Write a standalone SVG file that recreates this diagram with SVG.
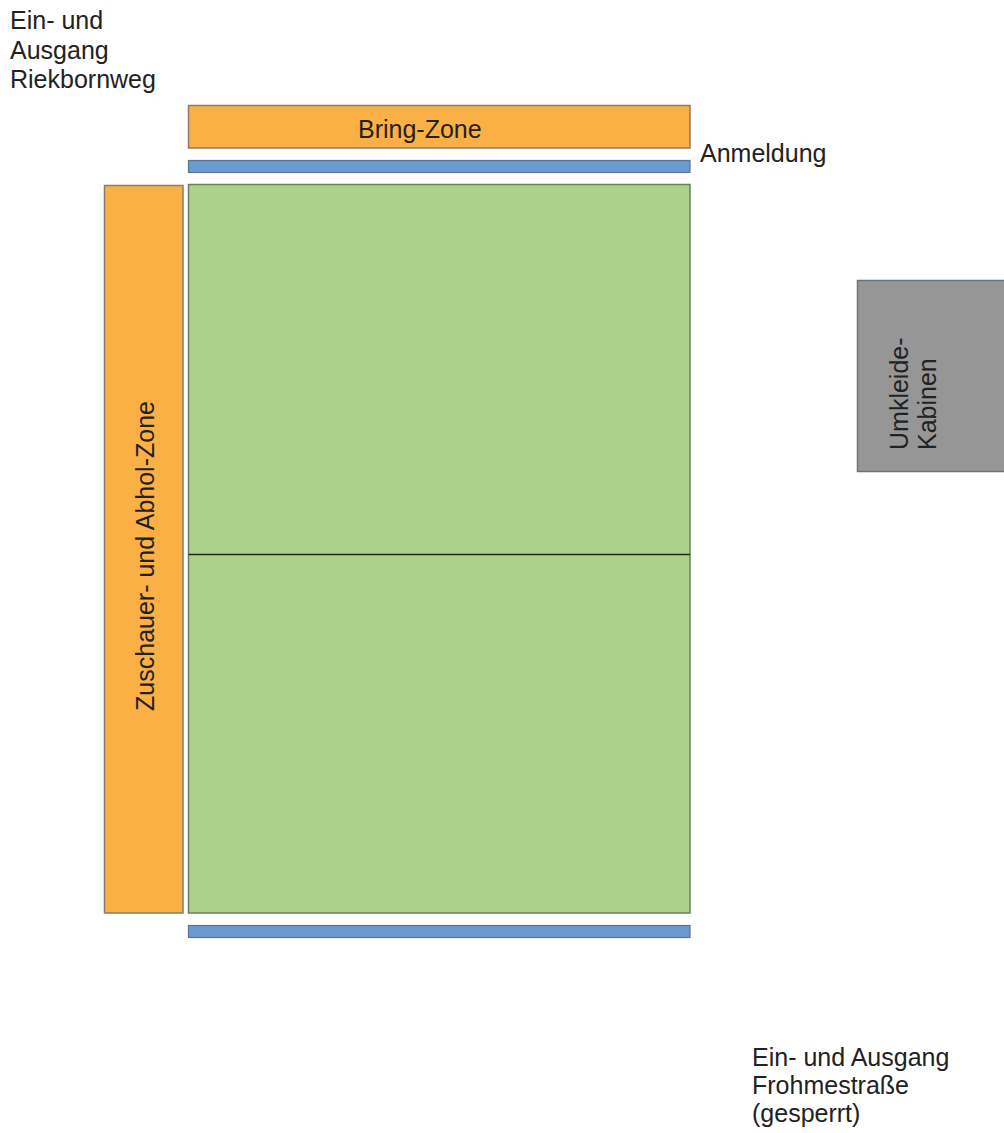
<svg xmlns="http://www.w3.org/2000/svg" width="1004" height="1133" viewBox="0 0 1004 1133">
<style>
text{font-family:"Liberation Sans",Arial,sans-serif;font-size:25px;fill:#222}
.orange{fill:#FBB045;stroke:#8c7b67;stroke-width:1.5}
.blue{fill:#6A9AD2;stroke:#5a7390;stroke-width:1.2}
.green{fill:#ABD18B;stroke:#6b7f63;stroke-width:1.5}
.gray{fill:#969696;stroke:#6b7684;stroke-width:1.5}
</style>
<rect width="1004" height="1133" fill="#fff"/>
<g id="label-riekbornweg">
<text x="10" y="29">Ein- und</text>
<text x="10" y="59">Ausgang</text>
<text x="10" y="88">Riekbornweg</text>
</g>
<g id="bring-zone">
<rect class="orange" x="188.5" y="105.5" width="501.5" height="42.5"/>
<text x="358" y="138">Bring-Zone</text>
</g>
<g id="anmeldung">
<rect class="blue" x="188.5" y="160.5" width="501.5" height="12"/>
<text x="700" y="162">Anmeldung</text>
</g>
<g id="zuschauer-zone">
<rect class="orange" x="104.5" y="185.5" width="78.5" height="727.5"/>
<text transform="translate(154,556) rotate(-90)" text-anchor="middle">Zuschauer- und Abhol-Zone</text>
</g>
<g id="spielfeld">
<rect class="green" x="188.5" y="184.5" width="501.5" height="728.5"/>
<line x1="188.5" y1="554.5" x2="690" y2="554.5" stroke="#1f2a1a" stroke-width="1.5"/>
</g>
<g id="bottom-bar">
<rect class="blue" x="188.5" y="925.5" width="501.5" height="12"/>
</g>
<g id="umkleide">
<rect class="gray" x="857.5" y="280.5" width="160" height="191"/>
<text transform="translate(908,450) rotate(-90)">Umkleide-</text>
<text transform="translate(936,450) rotate(-90)">Kabinen</text>
</g>
<g id="label-frohmestrasse">
<text x="752" y="1066">Ein- und Ausgang</text>
<text x="752" y="1094">Frohmestraße</text>
<text x="752" y="1122">(gesperrt)</text>
</g>
</svg>
